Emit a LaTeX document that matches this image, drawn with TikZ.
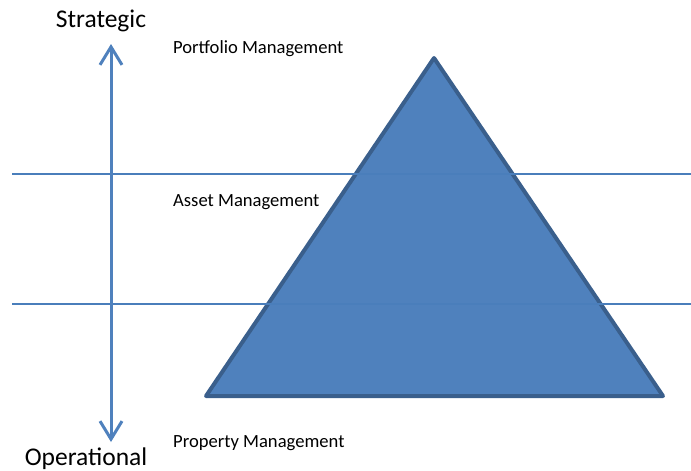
\documentclass[tikz,border=0pt]{standalone}
\usepackage{fontspec}
\setmainfont{Carlito}
\usetikzlibrary{arrows.meta}
\definecolor{accent}{HTML}{4F81BD}
\definecolor{accentdark}{HTML}{3A5F8C}
\definecolor{bandline}{HTML}{4A7EBB}
\tikzset{
  axislabel/.style={font=\fontsize{25.5}{28}\selectfont, inner sep=0pt},
  layerlabel/.style={font=\fontsize{18.6}{21}\selectfont, anchor=west, inner sep=0pt},
  axis/.style={draw=accent, line width=3pt,
    {Straight Barb[length=18pt,width=22pt,line width=3pt]}-{Straight Barb[length=18pt,width=22pt,line width=3pt]}},
  band/.style={draw=bandline, line width=1.3pt},
  pyramid/.style={fill=accent, draw=accentdark, line width=4pt, line join=round}
}
\begin{document}
\begin{tikzpicture}[x=1pt,y=-1pt]
  \useasboundingbox (0,0) rectangle (691,471);
  % pyramid
  \coordinate (apex) at (434,58);
  \coordinate (bl) at (206,396);
  \coordinate (br) at (663,396);
  \filldraw[pyramid] (apex) -- (br) -- (bl) -- cycle;
  % layer boundaries
  \coordinate (b1l) at (12,174);
  \coordinate (b1r) at (691,174);
  \coordinate (b2l) at (12,304);
  \coordinate (b2r) at (691,304);
  \draw[band] (b1l) -- (b1r);
  \draw[band] (b2l) -- (b2r);
  % strategic / operational axis
  \coordinate (top) at (111,44);
  \coordinate (bottom) at (111,442);
  \draw[axis] (bottom) -- (top);
  \node[axislabel] (strategic) at (101,21) {Strategic};
  \node[axislabel, anchor=base] (operational) at (86,465) {Operational};
  % layer names
  \node[layerlabel] (portfolio) at (173,49) {Portfolio Management};
  \node[layerlabel] (asset) at (173,202.5) {Asset Management};
  \node[layerlabel] (property) at (173,443) {Property Management};
\end{tikzpicture}
\end{document}
